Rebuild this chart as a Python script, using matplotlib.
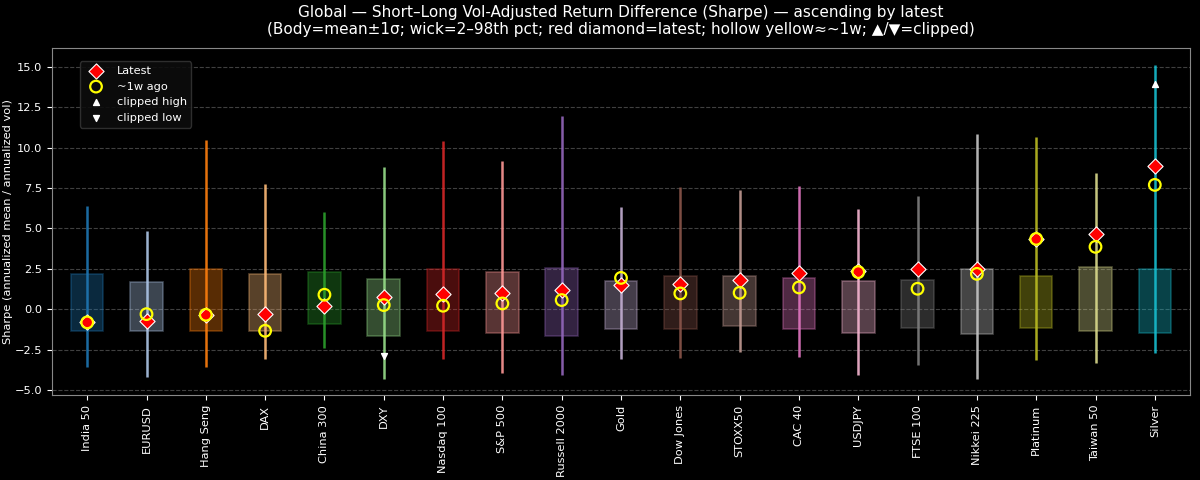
import numpy as np
import matplotlib
matplotlib.use("Agg")
import matplotlib.pyplot as plt

# data (sorted ascending by latest)
names = ["India 50", "EURUSD", "Hang Seng", "DAX", "China 300", "DXY", "Nasdaq 100",
         "S&P 500", "Russell 2000", "Gold", "Dow Jones", "STOXX50", "CAC 40", "USDJPY",
         "FTSE 100", "Nikkei 225", "Platinum", "Taiwan 50", "Silver"]
body_hi = [2.21, 1.68, 2.46, 2.21, 2.33, 1.88, 2.46, 2.31, 2.58, 1.74, 2.03, 2.05, 1.96,
           1.74, 1.82, 2.50, 2.03, 2.60, 2.48]
body_lo = [-1.37, -1.37, -1.37, -1.33, -0.90, -1.62, -1.37, -1.49, -1.66, -1.20, -1.20, -1.06,
           -1.20, -1.45, -1.16, -1.53, -1.18, -1.37, -1.49]
wick_hi = [6.41, 4.85, 10.44, 7.73, 6.02, 8.80, 10.40, 9.19, 11.92, 6.33, 7.58, 7.36, 7.60,
           6.20, 6.99, 10.85, 10.63, 8.41, 15.13]
wick_lo = [-3.57, -4.19, -3.57, -3.08, -2.40, -4.31, -3.08, -3.96, -4.04, -3.08, -3.04, -2.62,
           -2.95, -4.08, -3.43, -4.29, -3.16, -3.32, -2.69]
latest = [-0.81, -0.75, -0.34, -0.28, 0.20, 0.77, 0.94, 0.98, 1.20, 1.51, 1.57, 1.80, 2.23,
          2.38, 2.46, 2.50, 4.35, 4.64, 8.88]
week_ago = [-0.81, -0.30, -0.34, -1.33, 0.90, 0.26, 0.22, 0.36, 0.57, 1.94, 0.98, 1.02, 1.35,
            2.30, 1.27, 2.19, 4.35, 3.86, 7.69]
# clipped markers (index, value)
clip_hi_idx = [18]
clip_hi_val = [13.94]
clip_lo_idx = [5]
clip_lo_val = [-2.91]

plt.style.use("dark_background")
colors = plt.get_cmap("tab20").colors

fig, ax = plt.subplots(figsize=(12, 4.8), dpi=100)
x = np.arange(len(names))
w = 0.55

for i in range(len(names)):
    c = colors[i % 20]
    ax.bar(x[i], body_hi[i] - body_lo[i], bottom=body_lo[i], width=w,
           color=c, alpha=0.35, edgecolor=c, linewidth=1.2, zorder=2)
    ax.vlines(x[i], wick_lo[i], wick_hi[i], color=c, linewidth=1.8, alpha=0.9, zorder=3)

ax.scatter(x, latest, marker="D", s=60, color="red", edgecolors="white",
           linewidths=0.8, zorder=5, label="Latest")
ax.scatter(x, week_ago, marker="o", s=70, facecolors="none", edgecolors="yellow",
           linewidths=1.6, zorder=6, label="~1w ago")
ax.scatter(x[clip_hi_idx], clip_hi_val, marker="^", s=18, color="white", zorder=7,
           label="clipped high")
ax.scatter(x[clip_lo_idx], clip_lo_val, marker="v", s=18, color="white", zorder=7,
           label="clipped low")

ax.set_xticks(x)
ax.set_xticklabels(names, rotation=90, fontsize=8.2)
ax.tick_params(axis="y", labelsize=8.2)
ax.set_xlim(-0.6, len(names) - 0.4)
ax.set_ylim(-5.3, 16.15)
ax.set_ylabel("Sharpe (annualized mean / annualized vol)", fontsize=8.2)
ax.yaxis.set_label_coords(-0.034, 0.5)
ax.grid(axis="y", linestyle="--", color="gray", alpha=0.5)
ax.set_axisbelow(True)
for s in ax.spines.values():
    s.set_color("#888888")
ax.set_title("Global \u2014 Short\u2013Long Vol-Adjusted Return Difference (Sharpe) \u2014 ascending by latest\n"
             "(Body=mean\u00b11\u03c3; wick=2\u201398th pct; red diamond=latest; hollow yellow\u2248~1w; \u25b2/\u25bc=clipped)",
             fontsize=11, pad=10)
leg = ax.legend(loc="upper left", bbox_to_anchor=(0.02, 0.978), facecolor="#0d0d0d",
                edgecolor="#333333", framealpha=0.9, fontsize=8.2)

fig.subplots_adjust(left=0.043, right=0.992, top=0.9, bottom=0.177)
fig.savefig("out.png")
